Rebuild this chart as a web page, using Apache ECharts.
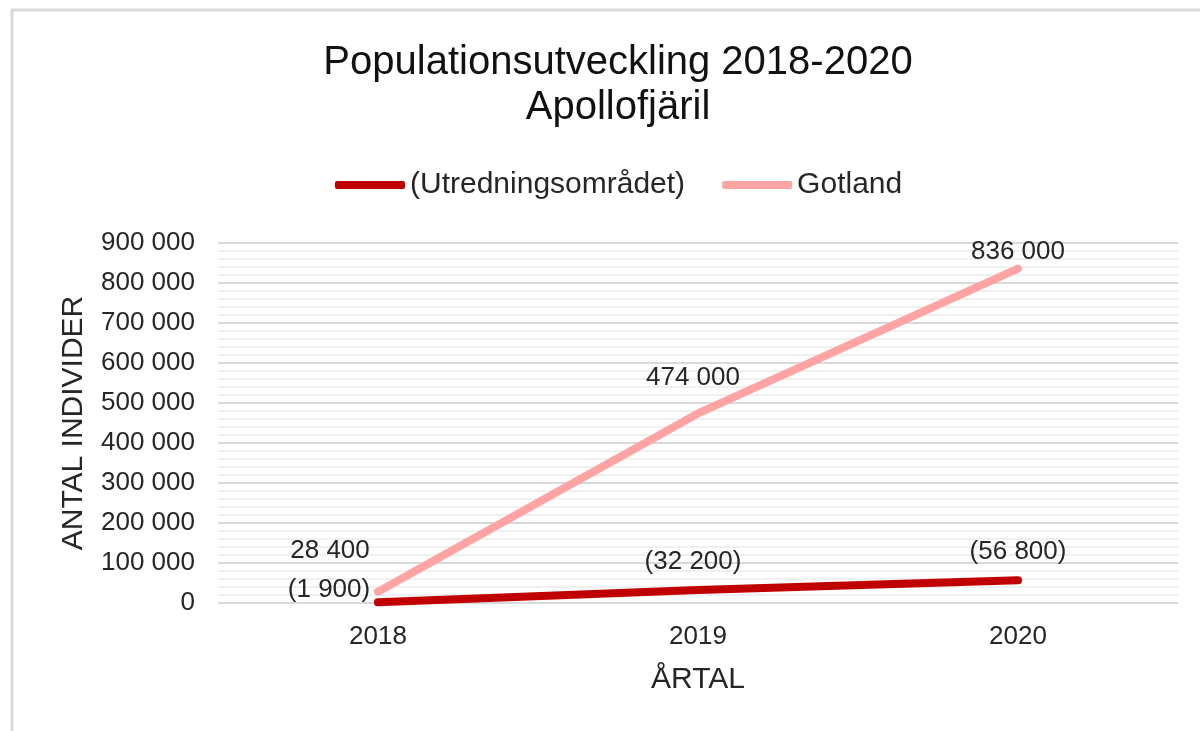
<!DOCTYPE html>
<html>
<head>
<meta charset="utf-8">
<script src="https://cdn.jsdelivr.net/npm/echarts@6/dist/echarts.min.js"></script>
<style>
  html, body { margin: 0; padding: 0; background: #fff; }
  #chart { width: 1200px; height: 731px; }
</style>
</head>
<body>
<div id="chart"></div>
<script>
// Population of the Apollo butterfly, 2018-2020
const years = ['2018', '2019', '2020'];
const utredningsomradet = [1900, 32200, 56800];
const gotland = [28400, 474000, 836000];
const yTicks = [0, 100000, 200000, 300000, 400000, 500000, 600000, 700000, 800000, 900000];

// Label offsets (px) for each point's value label
const gotlandLabelOffsets = [[-48, -41], [-5, -36], [0, -17]];
const utrLabelOffsets = [[-49, -12], [-5, -28], [0, -28]];

const FONT = '"Liberation Sans", Arial, sans-serif';
const TEXT = '#262626';

function fmt(v) {
  return String(v).replace(/\B(?=(\d{3})+(?!\d))/g, ' ');
}

function seriesData(values, offsets, paren) {
  return values.map((v, i) => ({
    value: v,
    label: {
      show: true,
      position: 'inside',
      offset: offsets[i],
      formatter: () => paren ? '(' + fmt(v) + ')' : fmt(v)
    }
  }));
}

const chart = echarts.init(document.getElementById('chart'), null, { renderer: 'canvas' });

chart.setOption({
  backgroundColor: '#fff',
  animation: false,
  graphic: [{
    type: 'rect',
    shape: { x: 12, y: 10, width: 1400, height: 900 },
    style: { fill: 'none', stroke: '#d9d9d9', lineWidth: 3 },
    silent: true,
    z: -10
  }],
  title: {
    text: 'Populationsutveckling 2018-2020\nApollofjäril',
    left: 613,
    textAlign: 'center',
    top: 35,
    textStyle: {
      fontFamily: FONT,
      fontSize: 40,
      fontWeight: 'normal',
      color: '#111',
      lineHeight: 45
    }
  },
  legend: {
    top: 165,
    left: 330,
    itemWidth: 70,
    itemHeight: 8,
    itemGap: 37,
    icon: 'roundRect',
    textStyle: { fontFamily: FONT, fontSize: 30, color: TEXT },
    data: ['(Utredningsområdet)', 'Gotland']
  },
  grid: { left: 218, right: 22, top: 243, bottom: 128, containLabel: false },
  xAxis: {
    type: 'category',
    data: years,
    boundaryGap: true,
    axisLine: { show: false },
    axisTick: { show: false },
    axisLabel: { fontFamily: FONT, fontSize: 26, color: TEXT, margin: 21 },
    name: 'ÅRTAL',
    nameLocation: 'middle',
    nameGap: 62,
    nameTextStyle: { fontFamily: FONT, fontSize: 30, color: TEXT }
  },
  yAxis: {
    type: 'value',
    min: yTicks[0],
    max: yTicks[yTicks.length - 1],
    interval: yTicks[1] - yTicks[0],
    axisLine: { show: false },
    axisTick: { show: false },
    axisLabel: {
      fontFamily: FONT, fontSize: 26, color: TEXT, margin: 23,
      formatter: v => fmt(v)
    },
    splitLine: { show: true, lineStyle: { color: '#d9d9d9', width: 2 } },
    minorTick: { show: false, splitNumber: 5 },
    minorSplitLine: { show: true, lineStyle: { color: '#f0f0f0', width: 2 } },
    name: 'ANTAL INDIVIDER',
    nameLocation: 'middle',
    nameGap: 129,
    nameRotate: 90,
    nameTextStyle: { fontFamily: FONT, fontSize: 30, color: TEXT }
  },
  series: [
    {
      name: '(Utredningsområdet)',
      type: 'line',
      data: seriesData(utredningsomradet, utrLabelOffsets, true),
      symbol: 'circle',
      symbolSize: 0,
      itemStyle: { color: '#c00000' },
      lineStyle: { color: '#c00000', width: 8, cap: 'round', join: 'round' },
      label: { fontFamily: FONT, fontSize: 26, color: TEXT },
      z: 3
    },
    {
      name: 'Gotland',
      type: 'line',
      data: seriesData(gotland, gotlandLabelOffsets, false),
      symbol: 'circle',
      symbolSize: 0,
      itemStyle: { color: '#ffa3a3' },
      lineStyle: { color: '#ffa3a3', width: 8, cap: 'round', join: 'round' },
      label: { fontFamily: FONT, fontSize: 26, color: TEXT },
      z: 2
    }
  ]
});
</script>
</body>
</html>
